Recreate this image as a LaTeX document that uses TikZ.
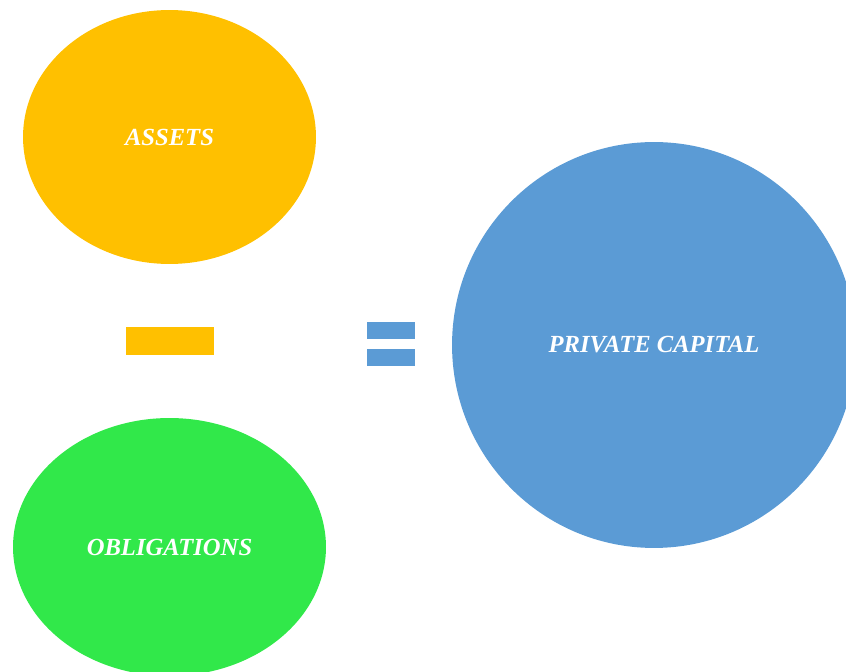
\documentclass[tikz,border=0pt]{standalone}
\usepackage{fontspec}
\setmainfont{Liberation Serif}
\usetikzlibrary{shapes.geometric}

\definecolor{assetyellow}{HTML}{FFC000}
\definecolor{debtgreen}{HTML}{31E84A}
\definecolor{capitalblue}{HTML}{5B9BD5}

\begin{document}
\begin{tikzpicture}[x=0.02cm, y=-0.02cm,
  blob/.style={ellipse, inner sep=0pt, text=white,
    font=\fontsize{14}{16}\selectfont\bfseries\itshape}]

  % frame
  \clip (0,0) rectangle (846,672);
  \useasboundingbox (0,0) rectangle (846,672);

  % the three terms
  \node[blob, fill=assetyellow, minimum width=5.86cm, minimum height=5.08cm]
    (assets) at (169.5,137) {ASSETS};
  \node[blob, fill=debtgreen, minimum width=6.26cm, minimum height=5.16cm]
    (obligations) at (169.5,547) {OBLIGATIONS};
  \node[blob, fill=capitalblue, minimum width=8.08cm, minimum height=8.12cm]
    (capital) at (654,345) {PRIVATE CAPITAL};

  % minus sign
  \fill[assetyellow] (126,327) rectangle (214,355);

  % equals sign
  \fill[capitalblue] (367,322) rectangle (415,339);
  \fill[capitalblue] (367,349) rectangle (415,366);
\end{tikzpicture}
\end{document}
